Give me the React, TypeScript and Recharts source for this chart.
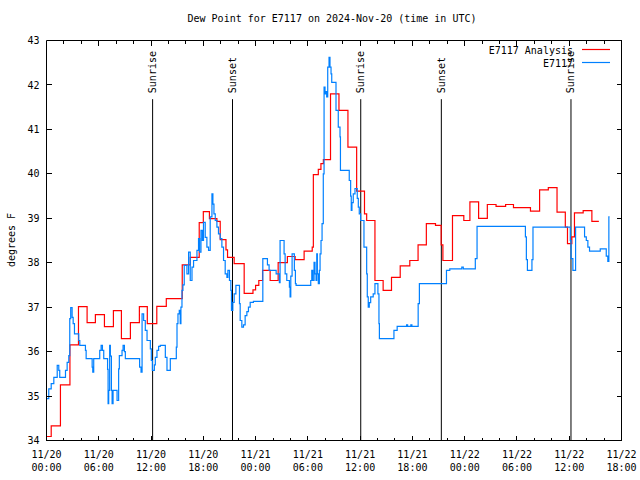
import React from 'react';
import { LineChart, Line, XAxis, YAxis, ReferenceLine } from 'recharts';

const FONT = '"DejaVu Sans Mono", "Liberation Mono", monospace';

const chartTitle = 'Dew Point for E7117 on 2024-Nov-20 (time in UTC)';
const yLabel = 'degrees F';
const seriesNames = ['E7117 Analysis', 'E7117'];
const seriesColors = ['#ff0000', '#0080ff'];

// hours since 11/20 00:00 UTC
const hourTicks = [0, 2, 4, 6, 8, 10, 12, 14, 16, 18, 20, 22, 24, 26, 28, 30, 32, 34,
  36, 38, 40, 42, 44, 46, 48, 50, 52, 54, 56, 58, 60, 62, 64, 66];
const majorHours = [0, 6, 12, 18, 24, 30, 36, 42, 48, 54, 60, 66];
const dayLabels = ['11/20', '11/20', '11/20', '11/20', '11/21', '11/21', '11/21', '11/21',
  '11/22', '11/22', '11/22', '11/22'];
const timeLabels = ['00:00', '06:00', '12:00', '18:00', '00:00', '06:00', '12:00', '18:00',
  '00:00', '06:00', '12:00', '18:00'];
const dewTicks = [34, 35, 36, 37, 38, 39, 40, 41, 42, 43];

const sunHours = [12.18, 21.35, 36.07, 45.32, 60.2];
const sunNames = ['Sunrise', 'Sunset', 'Sunrise', 'Sunset', 'Sunrise'];

// E7117 Analysis (step changes)
const analysisHours = [
  0, 0.54, 1.6, 2.69, 3.67, 4.66, 5.61, 6.65, 7.68, 8.6,
  9.63, 10.66, 11.57, 12.66, 13.75, 15.58, 16.5, 17.53, 18.0, 18.7,
  19.56, 19.94, 20.6, 20.78, 21.54, 22.69, 23.7, 24.0, 24.37, 24.8,
  25.67, 26.59, 27.65, 28.54, 29.57, 30.5, 30.63, 31.2, 31.5, 31.78,
  32.6, 33.57, 34.6, 35.6, 36.5, 36.75, 37.7, 38.64, 39.6, 40.6,
  41.7, 42.65, 43.6, 44.65, 45.3, 45.5, 46.6, 47.9, 48.6, 49.6,
  50.6, 51.6, 52.7, 53.6, 55.55, 56.6, 57.6, 58.6, 59.55, 59.8,
  60.3, 60.6, 61.6, 62.6, 63.4,
];
const analysisDew = [
  34.09, 34.33, 35.25, 36.15, 37.01, 36.65, 36.83, 36.56, 36.92, 36.29,
  36.65, 37.01, 36.63, 37.02, 37.19, 37.95, 38.12, 38.9, 39.15, 38.99,
  38.93, 38.52, 38.29, 38.12, 37.98, 37.31, 37.39, 37.49, 37.6, 37.83,
  37.6, 38.0, 38.14, 38.07, 38.26, 38.35, 39.98, 40.1, 40.23, 40.32,
  41.8, 41.43, 40.6, 39.61, 39.1, 38.95, 37.6, 37.38, 37.67, 37.93,
  38.05, 38.4, 38.88, 38.84, 38.4, 38.05, 39.06, 38.95, 39.37, 39.0,
  39.31, 39.27, 39.31, 39.24, 39.16, 39.64, 39.69, 39.14, 38.8, 38.43,
  38.58, 39.12, 39.17, 38.93, 38.93,
];

// E7117 observations
const stationHours = [
  0, 0.26, 0.54, 0.84, 1.23, 1.41, 1.52, 2.18, 2.37, 2.56,
  2.67, 2.78, 2.94, 3.06, 3.21, 3.7, 3.82, 4.47, 4.55, 5.24,
  5.31, 5.42, 6.11, 6.27, 6.42, 6.57, 7.01, 7.07, 7.14, 7.25,
  7.33, 7.45, 7.53, 7.64, 8.1, 8.28, 8.36, 8.67, 8.79, 8.94,
  9.05, 10.69, 10.85, 10.97, 11.15, 11.34, 11.54, 11.92, 12.03, 12.15,
  12.38, 12.49, 12.68, 12.87, 13.06, 13.64, 13.83, 14.21, 14.9, 14.98,
  15.09, 15.24, 15.35, 15.43, 15.55, 15.66, 15.81, 16.12, 16.31, 16.5,
  16.7, 16.88, 17.27, 17.45, 17.57, 17.73, 17.88, 18.02, 18.22, 18.41,
  18.6, 18.79, 18.99, 19.1, 19.22, 19.37, 19.56, 19.74, 19.94, 20.13,
  20.32, 20.51, 20.71, 20.82, 21.0, 21.16, 21.23, 21.39, 21.54, 21.74,
  22.15, 22.23, 22.42, 22.61, 22.8, 23.0, 23.18, 23.38, 23.75, 24.83,
  25.36, 25.55, 26.36, 26.73, 26.81, 27.27, 27.39, 27.58, 27.88, 27.96,
  28.04, 28.19, 28.45, 28.57, 28.65, 30.33, 30.45, 30.56, 30.71, 30.82,
  30.94, 31.02, 31.09, 31.2, 31.32, 31.4, 31.51, 31.63, 31.77, 31.86,
  31.97, 32.08, 32.16, 32.28, 32.43, 32.54, 32.66, 32.74, 33.23, 33.49,
  33.69, 33.74, 34.75, 34.91, 34.98, 35.06, 35.21, 35.41, 35.67, 35.79,
  35.9, 36.06, 36.44, 36.75, 36.82, 36.93, 37.05, 37.21, 37.5, 37.7,
  38.04, 38.16, 38.21, 39.88, 40.25, 41.33, 41.45, 41.82, 41.94, 42.66,
  42.8, 45.91, 46.29, 47.67, 47.84, 49.22, 49.42, 54.97, 55.08, 55.2,
  55.72, 55.84, 60.12, 60.21, 60.42, 60.73, 61.76, 61.96, 62.14, 62.33,
  63.56, 64.25, 64.43, 64.55, 64.63,
];
const stationDew = [
  34.94, 35.16, 35.28, 35.42, 35.69, 35.58, 35.42, 35.58, 35.76, 35.91,
  36.74, 36.99, 36.77, 36.63, 36.4, 36.25, 36.14, 36.03, 35.84, 35.65,
  35.54, 35.84, 36.03, 36.14, 36.03, 35.84, 35.6, 34.83, 35.13, 36.14,
  35.9, 35.13, 34.83, 35.13, 34.9, 35.61, 35.91, 36.03, 36.14, 36.0,
  35.84, 35.65, 35.54, 36.85, 36.7, 36.48, 36.25, 36.06, 35.8, 35.58,
  35.7, 35.87, 36.03, 36.12, 36.14, 35.87, 35.58, 35.84, 36.1, 36.63,
  36.85, 36.93, 36.63, 37.0, 37.38, 37.5, 37.94, 37.75, 38.24, 37.6,
  37.9, 38.05, 38.28, 38.54, 38.24, 38.73, 38.5, 38.91, 38.57, 38.35,
  38.28, 39.03, 39.55, 39.32, 39.1, 38.95, 38.8, 38.65, 38.54, 38.35,
  38.05, 37.75, 37.67, 37.83, 37.6, 37.38, 36.93, 37.11, 37.3, 37.49,
  37.08, 36.7, 36.55, 36.6, 36.81, 36.9, 37.0, 37.11, 37.13, 38.09,
  37.95, 37.83, 37.75, 37.55, 38.5, 38.2, 37.75, 37.6, 37.45, 37.23,
  37.7, 38.2, 37.83, 37.53, 37.49, 37.6, 37.83, 37.6, 38.01, 37.75,
  37.6, 38.2, 37.75, 37.53, 37.83, 38.2, 38.5, 38.88, 40.0, 41.95,
  41.8, 41.85, 41.73, 42.4, 42.62, 42.4, 42.25, 42.06, 41.43, 41.05,
  40.83, 40.08, 39.85, 39.5, 39.18, 39.35, 39.55, 39.67, 39.45, 39.25,
  39.1, 38.95, 38.35, 37.75, 37.23, 37.0, 37.1, 37.23, 37.3, 37.53,
  37.3, 36.63, 36.29, 36.48, 36.57, 36.6, 36.57, 36.6, 36.57, 37.08,
  37.53, 37.83, 37.86, 37.9, 37.86, 38.09, 38.82, 38.58, 38.07, 37.83,
  38.07, 38.8, 38.5, 38.09, 37.83, 38.8, 38.58, 38.5, 38.35, 38.26,
  38.31, 38.15, 38.03, 39.03, 39.03,
];

const analysisData = analysisHours.map((t, i) => ({ t, v: analysisDew[i] }));
const stationData = stationHours.map((t, i) => ({ t, v: stationDew[i] }));

const txt = { fontFamily: FONT, fontSize: 10, fill: '#000' };

function BottomTick(props: any) {
  const { x, y, payload } = props;
  const i = majorHours.indexOf(payload.value);
  return (
    <g>
      <line x1={x} x2={x} y1={y} y2={y - (i >= 0 ? 5 : 3)} stroke="#000" shapeRendering="crispEdges" />
      {i >= 0 && (
        <text x={x} y={y + 17} textAnchor="middle" {...txt}>
          <tspan x={x}>{dayLabels[i]}</tspan>
          <tspan x={x} dy={13.3}>{timeLabels[i]}</tspan>
        </text>
      )}
    </g>
  );
}

function TopTick(props: any) {
  const { x, y, payload } = props;
  const major = majorHours.includes(payload.value);
  return <line x1={x} x2={x} y1={y} y2={y + (major ? 5 : 3)} stroke="#000" shapeRendering="crispEdges" />;
}

function LeftTick(props: any) {
  const { x, y, payload } = props;
  return (
    <g>
      <line x1={x} x2={x + 5} y1={y} y2={y} stroke="#000" shapeRendering="crispEdges" />
      <text x={x - 7} y={y + 3.6} textAnchor="end" {...txt}>{payload.value}</text>
    </g>
  );
}

function RightTick(props: any) {
  const { x, y } = props;
  return <line x1={x} x2={x - 5} y1={y} y2={y} stroke="#000" shapeRendering="crispEdges" />;
}

function sunLabel(name: string) {
  return (p: any) => {
    const vb = p.viewBox || {};
    return (
      <text
        transform={`translate(${vb.x}, ${vb.y - 6}) rotate(-90)`}
        dominantBaseline="central"
        {...txt}
      >
        {name}
      </text>
    );
  };
}

export default function App() {
  return (
    <div style={{ position: 'absolute', left: 0, top: 0, width: 640, height: 480, background: '#fff' }}>
      <LineChart width={640} height={480} margin={{ top: 39.5, right: 17.5, bottom: 0, left: 0 }}>
        <XAxis
          dataKey="t"
          type="number"
          domain={[0, 66]}
          allowDataOverflow
          ticks={hourTicks}
          interval={0}
          height={39.5}
          tickSize={0}
          tickMargin={0}
          tickLine={false}
          axisLine={{ stroke: '#000' }}
          tick={<BottomTick />}
        />
        <XAxis
          xAxisId="top"
          orientation="top"
          dataKey="t"
          type="number"
          domain={[0, 66]}
          allowDataOverflow
          ticks={hourTicks}
          interval={0}
          height={1}
          tickSize={0}
          tickMargin={0}
          tickLine={false}
          axisLine={{ stroke: '#000' }}
          tick={<TopTick />}
        />
        <YAxis
          type="number"
          domain={[34, 43]}
          allowDataOverflow
          ticks={dewTicks}
          interval={0}
          width={46.5}
          tickSize={0}
          tickMargin={0}
          tickLine={false}
          axisLine={{ stroke: '#000' }}
          tick={<LeftTick />}
        />
        <YAxis
          yAxisId="right"
          orientation="right"
          type="number"
          domain={[34, 43]}
          allowDataOverflow
          ticks={dewTicks}
          interval={0}
          width={1}
          tickSize={0}
          tickMargin={0}
          tickLine={false}
          axisLine={{ stroke: '#000' }}
          tick={<RightTick />}
        />
        {sunHours.map((h, i) => (
          <ReferenceLine
            key={`sun-${i}`}
            segment={[{ x: h, y: 34 }, { x: h, y: 41.68 }]}
            stroke="#000"
            strokeWidth={1}
            label={sunLabel(sunNames[i])}
          />
        ))}
        <Line
          data={analysisData}
          dataKey="v"
          name={seriesNames[0]}
          type="stepAfter"
          stroke={seriesColors[0]}
          strokeWidth={1.2}
          dot={false}
          activeDot={false}
          isAnimationActive={false}
        />
        <Line
          data={stationData}
          dataKey="v"
          name={seriesNames[1]}
          type="stepAfter"
          stroke={seriesColors[1]}
          strokeWidth={1.2}
          dot={false}
          activeDot={false}
          isAnimationActive={false}
        />
      </LineChart>

      <div
        style={{
          position: 'absolute', left: 332, top: 12, transform: 'translateX(-50%)',
          fontFamily: FONT, fontSize: 10, lineHeight: '13px', whiteSpace: 'nowrap', color: '#000',
        }}
      >
        {chartTitle}
      </div>
      <div
        style={{
          position: 'absolute', left: 11, top: 240, transform: 'translate(-50%, -50%) rotate(-90deg)',
          fontFamily: FONT, fontSize: 10, lineHeight: '13px', whiteSpace: 'nowrap', color: '#000',
        }}
      >
        {yLabel}
      </div>
      <div style={{ position: 'absolute', top: 44, right: 30, fontFamily: FONT, fontSize: 10, lineHeight: '13px' }}>
        {seriesNames.map((n, i) => (
          <div key={n} style={{ display: 'flex', justifyContent: 'flex-end', alignItems: 'center', height: 13 }}>
            <span style={{ whiteSpace: 'nowrap' }}>{n}</span>
            <svg width={37} height={13} style={{ display: 'block' }}>
              <line x1={9} x2={37} y1={5.5} y2={5.5} stroke={seriesColors[i]} strokeWidth={1.2} />
            </svg>
          </div>
        ))}
      </div>
    </div>
  );
}
